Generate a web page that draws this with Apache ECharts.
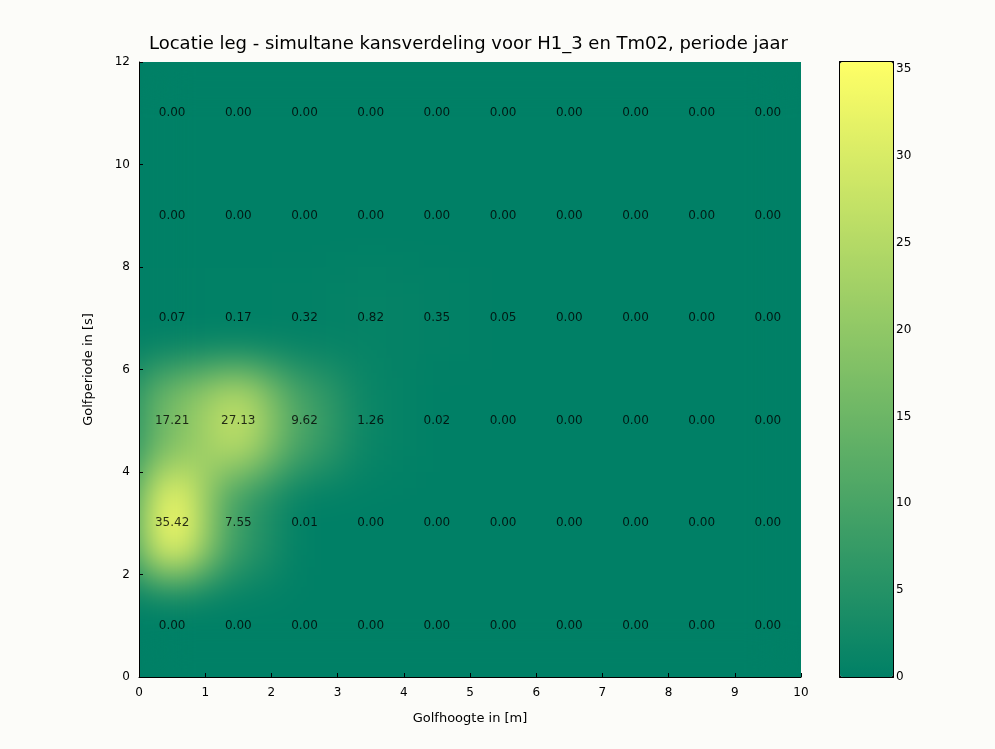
<!DOCTYPE html>
<html>
<head>
<meta charset="utf-8">
<script src="https://cdn.jsdelivr.net/npm/echarts@6/dist/echarts.min.js"></script>
<style>
    body { margin: 0; background: #fcfcf9; }
    #heatBox { position: absolute; left: 139px; top: 62px; width: 662px; height: 615px; overflow: hidden; contain: paint; clip-path: inset(0); background: #008066; }
    #heat { width: 662px; height: 615px; filter: blur(24px); }
    #main { position: absolute; left: 0; top: 0; width: 995px; height: 749px; }
</style>
</head>
<body>
<div id="heatBox"><div id="heat"></div></div>
<div id="main"></div>
<script>
// celmiddens
const golfhoogte = [0.5, 1.5, 2.5, 3.5, 4.5, 5.5, 6.5, 7.5, 8.5, 9.5];
const golfperiode = [1, 3, 5, 7, 9, 11];

// kans per periode-rij (van onder naar boven)
const rij1 = [0, 0, 0, 0, 0, 0, 0, 0, 0, 0];
const rij3 = [35.42, 7.55, 0.01, 0, 0, 0, 0, 0, 0, 0];
const rij5 = [17.21, 27.13, 9.62, 1.26, 0.02, 0, 0, 0, 0, 0];
const rij7 = [0.07, 0.17, 0.32, 0.82, 0.35, 0.05, 0, 0, 0, 0];
const rij9 = [0, 0, 0, 0, 0, 0, 0, 0, 0, 0];
const rij11 = [0, 0, 0, 0, 0, 0, 0, 0, 0, 0];
const rijen = [rij1, rij3, rij5, rij7, rij9, rij11];

const summer = ['#008066', '#ffff66'];
const maxKans = 35.42;
const fontFam = 'DejaVu Sans';

const cellen = [];
const punten = [];
rijen.forEach(function (rij, j) {
    rij.forEach(function (v, i) {
        cellen.push([i, j, v]);
        punten.push([golfhoogte[i], golfperiode[j], v]);
    });
});

// onderlaag: vloeiend gemaakte heatmap
const heat = echarts.init(document.getElementById('heat'));
heat.setOption({
    animation: false,
    grid: { left: 0, right: 0, top: 0, bottom: 0 },
    xAxis: { type: 'category', data: golfhoogte, show: false },
    yAxis: { type: 'category', data: golfperiode, show: false },
    visualMap: { show: false, min: 0, max: maxKans, dimension: 2, inRange: { color: summer } },
    series: [{ type: 'heatmap', data: cellen, itemStyle: { borderWidth: 0 } }]
});

// bovenlaag: assen, labels, kleurenbalk
const main = echarts.init(document.getElementById('main'));
const tekst = { color: '#000', fontFamily: fontFam, fontSize: 12 };
const naam = { color: '#000', fontFamily: fontFam, fontSize: 13 };
main.setOption({
    animation: false,
    title: {
        text: 'Locatie leg - simultane kansverdeling voor H1_3 en Tm02, periode jaar',
        left: 144, top: 30,
        textStyle: { fontFamily: fontFam, fontSize: 18, fontWeight: 'normal', color: '#000' }
    },
    grid: [
        { left: 139, top: 62, width: 662, height: 615 },
        { left: 840, top: 62, width: 53, height: 615 }
    ],
    xAxis: [
        {
            gridIndex: 0, type: 'value', min: 0, max: 10, interval: 1,
            name: 'Golfhoogte in [m]', nameLocation: 'middle', nameGap: 35,
            nameTextStyle: naam,
            axisLine: { show: true, lineStyle: { color: '#000' } },
            axisTick: { inside: true, length: 4, lineStyle: { color: '#000' } },
            axisLabel: Object.assign({ margin: 10 }, tekst),
            splitLine: { show: false }
        },
        { gridIndex: 1, type: 'value', min: 0, max: 1, axisLabel: { show: false }, axisTick: { show: false }, splitLine: { show: false }, axisLine: { show: true, onZero: false, lineStyle: { color: '#000', width: 2 } } },
        { gridIndex: 1, type: 'value', min: 0, max: 1, position: 'top', axisLabel: { show: false }, axisTick: { show: false }, splitLine: { show: false }, axisLine: { show: true, onZero: false, lineStyle: { color: '#000', width: 2 } } }
    ],
    yAxis: [
        {
            gridIndex: 0, type: 'value', min: 0, max: 12, interval: 2,
            name: 'Golfperiode in [s]', nameLocation: 'middle', nameGap: 44, nameRotate: 90,
            nameTextStyle: naam,
            axisLine: { show: true, lineStyle: { color: '#000' } },
            axisTick: { inside: true, length: 4, lineStyle: { color: '#000' } },
            axisLabel: Object.assign({ margin: 9 }, tekst),
            splitLine: { show: false }
        },
        {
            gridIndex: 1, type: 'value', min: 0, max: maxKans, interval: 5, position: 'right',
            axisLine: { show: true, onZero: false, lineStyle: { color: '#000', width: 2 } },
            axisTick: { inside: true, length: 4, lineStyle: { color: '#000' } },
            axisLabel: Object.assign({ margin: 3, showMaxLabel: false }, tekst),
            splitLine: { show: false }
        },
        {
            gridIndex: 1, type: 'value', min: 0, max: maxKans, interval: 5, position: 'left',
            axisLine: { show: true, onZero: false, lineStyle: { color: '#000', width: 2 } },
            axisTick: { inside: true, length: 4, lineStyle: { color: '#000' } },
            axisLabel: { show: false },
            splitLine: { show: false }
        }
    ],
    visualMap: {
        type: 'continuous', min: 0, max: maxKans, dimension: 2, seriesIndex: 0,
        left: 840, top: 62, itemWidth: 53, itemHeight: 615, padding: 0,
        calculable: false, hoverLink: false, text: ['', ''], showLabel: false,
        inRange: { color: summer }
    },
    series: [
        {
            type: 'scatter', xAxisIndex: 0, yAxisIndex: 0, symbolSize: 0, data: punten, z: 5,
            label: {
                show: true, position: 'inside', color: '#000', fontFamily: fontFam, fontSize: 12,
                formatter: function (p) { return p.value[2].toFixed(2); }
            }
        }
    ]
});
</script>
</body>
</html>
